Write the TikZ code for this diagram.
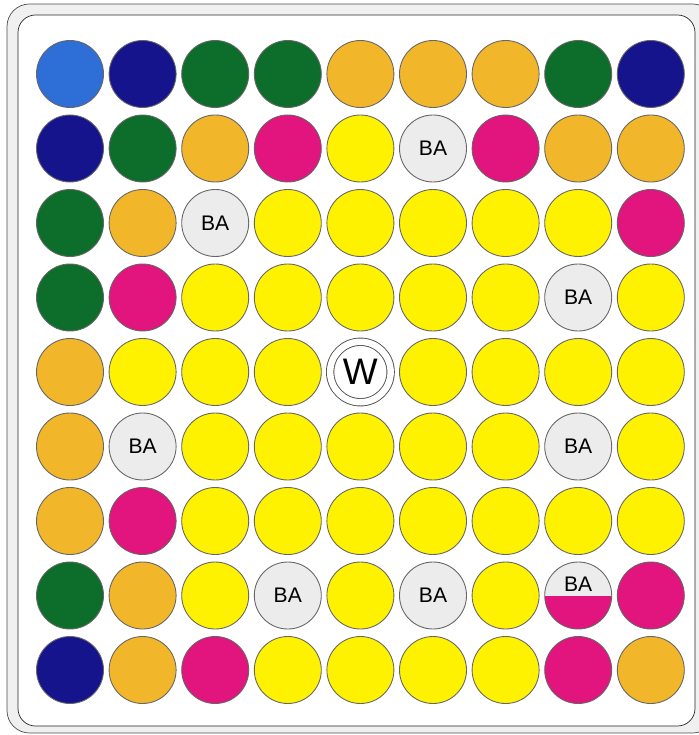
\documentclass[tikz,border=0pt]{standalone}
\usepackage{fontspec}
\setsansfont{Liberation Sans}
\definecolor{discblue}{RGB}{45,110,215}
\definecolor{discnavy}{RGB}{22,20,140}
\definecolor{discgreen}{RGB}{12,110,42}
\definecolor{discorange}{RGB}{242,182,42}
\definecolor{discpink}{RGB}{226,20,125}
\definecolor{discyellow}{RGB}{255,242,0}
\definecolor{discgrey}{RGB}{236,236,236}

\begin{document}
\begin{tikzpicture}[
    disc/.style={circle, draw=black!60, line width=0.5pt, minimum size=1.34cm, inner sep=0pt, node contents={}},
    dB/.style={disc, fill=discblue},
    dN/.style={disc, fill=discnavy},
    dG/.style={disc, fill=discgreen},
    dO/.style={disc, fill=discorange},
    dP/.style={disc, fill=discpink},
    dY/.style={disc, fill=discyellow},
    dBA/.style={disc, fill=discgrey, font=\sffamily\fontsize{12}{14}\selectfont, node contents={BA}},
    dH/.style={dBA, text height=8.6pt, text depth=13.6pt,
      path picture={\fill[discpink] (path picture bounding box.west) rectangle (path picture bounding box.south east);}},
    dW/.style={disc, fill=white, draw=black!70, minimum size=1.21cm, double=white, double distance=0.13cm,
      font=\sffamily\fontsize{21}{24}\selectfont, node contents={W}},
  ]
  \useasboundingbox (0,0) rectangle (13.98,-14.70);

  % Frame of the board
  \draw[black!70, fill=gray!12, rounded corners=0.45cm] (0.14,-0.08) rectangle (14.3,-14.66);
  \draw[black!85, fill=white, rounded corners=0.35cm] (0.36,-0.30) rectangle (13.90,-14.52);

  % Discs, row by row
  \foreach \r/\row in {
      1/{dB,dN,dG,dG,dO,dO,dO,dG,dN},
      2/{dN,dG,dO,dP,dY,dBA,dP,dO,dO},
      3/{dG,dO,dBA,dY,dY,dY,dY,dY,dP},
      4/{dG,dP,dY,dY,dY,dY,dY,dBA,dY},
      5/{dO,dY,dY,dY,dW,dY,dY,dY,dY},
      6/{dO,dBA,dY,dY,dY,dY,dY,dBA,dY},
      7/{dO,dP,dY,dY,dY,dY,dY,dY,dY},
      8/{dG,dO,dY,dBA,dY,dBA,dY,dH,dP},
      9/{dN,dO,dP,dY,dY,dY,dY,dP,dO}} {
    \foreach \s [count=\c] in \row {
      \node (d-\r-\c) at ({1.40+1.452*(\c-1)},{-1.48-1.49*(\r-1)}) [\s];
    }
  }
\end{tikzpicture}
\end{document}
